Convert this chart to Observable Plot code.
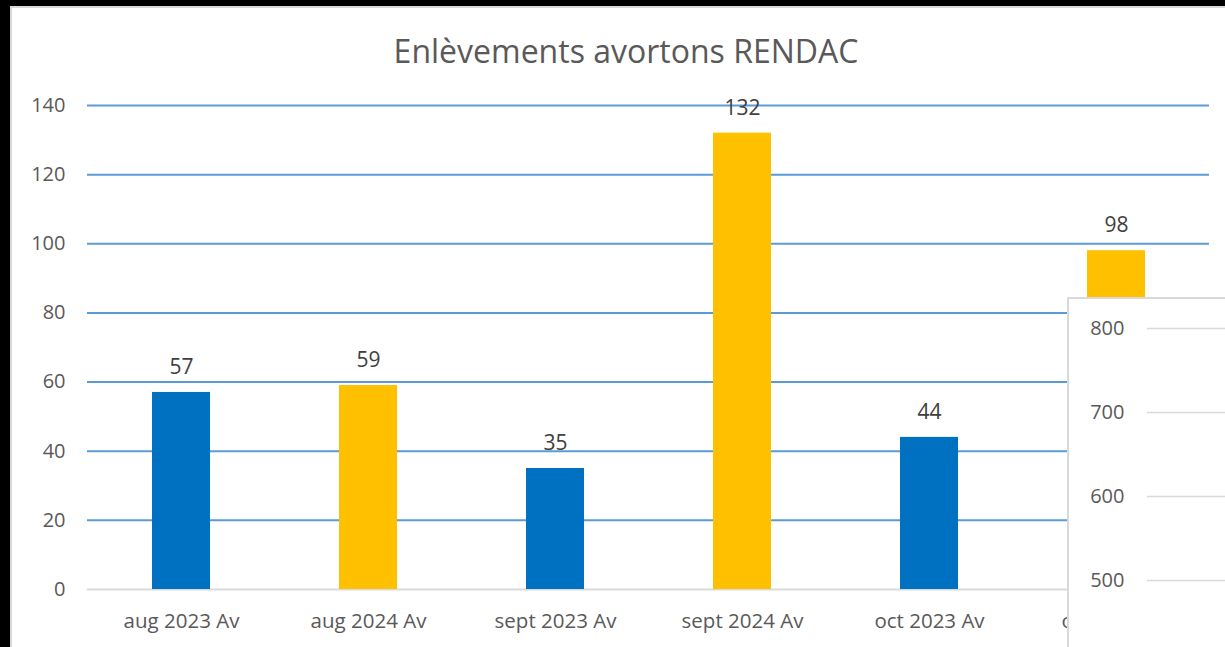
<!DOCTYPE html>
<html>
<head>
<meta charset="utf-8">
<script src="https://cdn.jsdelivr.net/npm/d3@7"></script>
<script src="https://cdn.jsdelivr.net/npm/@observablehq/plot@0.6"></script>
<style>
  html, body { margin: 0; padding: 0; background: #000; width: 1225px; height: 647px; overflow: hidden; }
  #card { position: absolute; left: 10px; top: 6px; width: 1213px; height: 639px; background: #fff;
          border-left: 2px solid #d9d9d9; border-top: 2px solid #d9d9d9; overflow: hidden; }
  #title { position: absolute; left: 0; top: 23px; width: 1228px; text-align: center;
           font-family: "Open Sans", Lato, sans-serif; font-size: 32px; color: #595959; line-height: 40px; }
  #main { position: absolute; left: 0; top: 72px; }
  #inset { position: absolute; left: 1055px; top: 289px; width: 200px; height: 400px; background: #fff;
           border-left: 2px solid #d9d9d9; border-top: 2px solid #d9d9d9; }
</style>
</head>
<body>
<div id="card">
  <div id="title">Enlèvements avortons RENDAC</div>
  <div id="main"></div>
  <div id="inset"></div>
</div>
<script>
const categories = ["aug 2023 Av", "aug 2024 Av", "sept 2023 Av", "sept 2024 Av", "oct 2023 Av", "oct 2024 Av"];
const values = [57, 59, 35, 132, 44, 98];
const years = ["2023", "2024", "2023", "2024", "2023", "2024"];
const yTicks = [0, 20, 40, 60, 80, 100, 120, 140];
const insetTicks = [500, 600, 700, 800];

const data = categories.map((c, i) => ({category: c, value: values[i], year: years[i]}));

const font = "'Open Sans', Lato, sans-serif";

const main = Plot.plot({
  width: 1213,
  height: 567,
  marginTop: 25,
  marginBottom: 58,
  marginLeft: 75,
  marginRight: 16,
  style: {fontFamily: font, fontSize: "20px", color: "#595959", background: "transparent"},
  x: {domain: categories, paddingInner: 0.69, paddingOuter: 0.345, label: null},
  y: {domain: [0, 140], label: null},
  color: {domain: ["2023", "2024"], range: ["#0070C0", "#FFC000"]},
  marks: [
    Plot.ruleY(yTicks.filter(d => d > 0), {stroke: "#5B9BD5", strokeWidth: 2}),
    Plot.ruleY([0], {stroke: "#d9d9d9", strokeWidth: 2}),
    Plot.barY(data, {x: "category", y: "value", fill: "year"}),
    Plot.text(data, {x: "category", y: "value", text: d => String(d.value), dy: -25,
                     fill: "#404040", fontSize: 21}),
    Plot.axisY({ticks: yTicks, tickSize: 0, tickPadding: 22, fill: "#595959", fontSize: 20}),
    Plot.axisX({tickSize: 0, tickPadding: 24, fill: "#595959", fontSize: 20.5})
  ]
});
document.getElementById("main").appendChild(main);

const inset = Plot.plot({
  width: 200,
  height: 400,
  marginTop: 29,
  marginBottom: 119,
  marginLeft: 78,
  marginRight: 0,
  style: {fontFamily: font, fontSize: "20px", color: "#595959", background: "transparent"},
  y: {domain: [500, 800], label: null},
  marks: [
    Plot.ruleY(insetTicks, {stroke: "#d9d9d9", strokeWidth: 1.5}),
    Plot.axisY({ticks: insetTicks, tickSize: 0, tickPadding: 3, dx: -20, fill: "#595959", fontSize: 20})
  ]
});
document.getElementById("inset").appendChild(inset);
</script>
</body>
</html>
